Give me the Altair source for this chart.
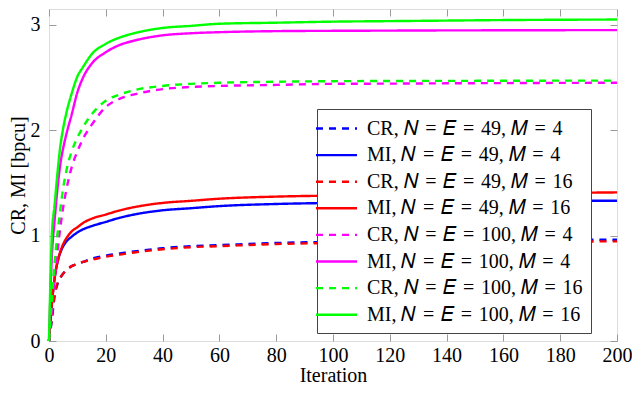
import altair as alt
import pandas as pd

iters = [0, 1, 2, 3, 4, 5, 6, 8, 10, 12, 15, 20, 25, 30, 40, 50, 60, 80, 100, 120, 140, 160, 180, 200]

cr_49_4 = [0, 0.2, 0.43, 0.54, 0.6, 0.64, 0.67, 0.71, 0.73, 0.75, 0.78, 0.81, 0.83, 0.85, 0.88, 0.9, 0.91, 0.93, 0.94, 0.945, 0.95, 0.955, 0.96, 0.96]
mi_49_4 = [0, 0.35, 0.6, 0.75, 0.84, 0.9, 0.94, 0.99, 1.03, 1.06, 1.09, 1.13, 1.17, 1.2, 1.24, 1.26, 1.28, 1.3, 1.31, 1.315, 1.32, 1.325, 1.33, 1.33]
cr_49_16 = [0, 0.22, 0.45, 0.55, 0.6, 0.64, 0.67, 0.71, 0.73, 0.75, 0.77, 0.8, 0.82, 0.84, 0.87, 0.89, 0.9, 0.92, 0.93, 0.935, 0.94, 0.942, 0.944, 0.945]
mi_49_16 = [0, 0.35, 0.6, 0.75, 0.85, 0.92, 0.97, 1.04, 1.08, 1.12, 1.16, 1.2, 1.24, 1.27, 1.31, 1.33, 1.35, 1.37, 1.38, 1.39, 1.395, 1.4, 1.405, 1.41]
cr_100_4 = [0, 0.3, 0.6, 0.85, 1.08, 1.27, 1.42, 1.65, 1.8, 1.92, 2.05, 2.22, 2.3, 2.34, 2.39, 2.41, 2.42, 2.43, 2.44, 2.442, 2.445, 2.447, 2.449, 2.45]
mi_100_4 = [0, 0.8, 1.15, 1.45, 1.68, 1.83, 1.95, 2.15, 2.36, 2.5, 2.63, 2.74, 2.81, 2.85, 2.9, 2.92, 2.93, 2.94, 2.943, 2.945, 2.947, 2.948, 2.949, 2.95]
cr_100_16 = [0, 0.4, 0.75, 1.02, 1.25, 1.45, 1.6, 1.8, 1.93, 2.03, 2.15, 2.28, 2.34, 2.38, 2.42, 2.44, 2.45, 2.46, 2.465, 2.467, 2.468, 2.469, 2.47, 2.47]
mi_100_16 = [0, 1.0, 1.3, 1.6, 1.85, 2.02, 2.15, 2.35, 2.51, 2.6, 2.72, 2.82, 2.88, 2.92, 2.97, 2.99, 3.01, 3.02, 3.03, 3.035, 3.04, 3.045, 3.048, 3.05]

S = "\u2004"  # slightly wider space around "=" (math spacing)
T = "\u2005"  # trailing space: a little more room at the legend's right edge
labels = [
    f"CR, 𝑁{S}={S}𝐸{S}={S}49, 𝑀{S}={S}4{T}",
    f"MI, 𝑁{S}={S}𝐸{S}={S}49, 𝑀{S}={S}4{T}",
    f"CR, 𝑁{S}={S}𝐸{S}={S}49, 𝑀{S}={S}16{T}",
    f"MI, 𝑁{S}={S}𝐸{S}={S}49, 𝑀{S}={S}16{T}",
    f"CR, 𝑁{S}={S}𝐸{S}={S}100, 𝑀{S}={S}4{T}",
    f"MI, 𝑁{S}={S}𝐸{S}={S}100, 𝑀{S}={S}4{T}",
    f"CR, 𝑁{S}={S}𝐸{S}={S}100, 𝑀{S}={S}16{T}",
    f"MI, 𝑁{S}={S}𝐸{S}={S}100, 𝑀{S}={S}16{T}",
]
series = [cr_49_4, mi_49_4, cr_49_16, mi_49_16, cr_100_4, mi_100_4, cr_100_16, mi_100_16]
colors = ["#0000ff", "#0000ff", "#ff0000", "#ff0000", "#ff00ff", "#ff00ff", "#00ff00", "#00ff00"]
dashes = [[7, 6], [1, 0], [7, 6], [1, 0], [7, 6], [1, 0], [7, 6], [1, 0]]

rows = []
for k, (lab, vals) in enumerate(zip(labels, series)):
    for it, v in zip(iters, vals):
        rows.append({"s": lab, "k": k, "it": it, "v": v})
df = pd.DataFrame(rows)

FONT = "Liberation Serif"
FS = 20
xscale = alt.Scale(domain=[0, 200], nice=False, zero=False)
yscale = alt.Scale(domain=[0, 3.15], nice=False)
TICK = "#9a9a9a"
xvals = list(range(0, 201, 20))
yvals = [0, 1, 2, 3]

legend = alt.Legend(
    orient="none", legendX=268, legendY=100, title=None,
    symbolType="M-2,0H2", symbolSize=420, symbolStrokeWidth=2.4,
    labelFont=FONT, labelFontSize=FS, labelColor="black", labelLimit=500,
    padding=8, rowPadding=4.6, labelOffset=19,
    strokeColor="#444444", fillColor="white", cornerRadius=0,
)

main = alt.Chart(df).mark_line(strokeWidth=2.4, interpolate="monotone").encode(
    x=alt.X("it:Q", scale=xscale, axis=alt.Axis(
        orient="bottom", offset=-7, tickSize=7, tickColor=TICK, tickWidth=1,
        domain=False, grid=False, values=xvals, format="d",
        labelFont=FONT, labelFontSize=FS, labelColor="black",
        labelPadding=4, labelFlush=False, labelOverlap=False,
        title="Iteration", titleFont=FONT, titleFontSize=FS, titleFontWeight="normal",
        titleColor="black", titlePadding=0)),
    y=alt.Y("v:Q", scale=yscale, axis=alt.Axis(
        orient="left", offset=-7, tickSize=7, tickColor=TICK, tickWidth=1,
        domain=False, grid=False, values=yvals, format="d",
        labelFont=FONT, labelFontSize=FS, labelColor="black",
        labelPadding=9, labelFlush=False, labelOverlap=False,
        title="CR, MI [bpcu]", titleFont=FONT, titleFontSize=FS, titleFontWeight="normal",
        titleColor="black", titlePadding=2)),
    color=alt.Color("s:N", scale=alt.Scale(domain=labels, range=colors), legend=legend),
    strokeDash=alt.StrokeDash("s:N", scale=alt.Scale(domain=labels, range=dashes), legend=legend),
    order=alt.Order("k:Q"),
)

frame_ticks = alt.Chart(df).mark_line(opacity=0).encode(
    x=alt.X("it:Q", scale=xscale, axis=alt.Axis(
        orient="top", offset=-7, tickSize=7, tickColor=TICK, tickWidth=1,
        domain=False, grid=False, labels=False, values=xvals, title=None)),
    y=alt.Y("v:Q", scale=yscale, axis=alt.Axis(
        orient="right", offset=-7, tickSize=7, tickColor=TICK, tickWidth=1,
        domain=False, grid=False, labels=False, values=yvals, title=None)),
)

chart = alt.layer(main, frame_ticks).resolve_axis(x="independent", y="independent").properties(
    width=624, height=377,
    autosize=alt.AutoSizeParams(type="fit", contains="padding"),
    padding={"left": 0, "top": 0, "right": 0, "bottom": 0},
).configure_view(stroke="#444444", strokeWidth=1.4).configure(background="white")

chart.save("out.html", embed_options={"renderer": "svg", "actions": False})
